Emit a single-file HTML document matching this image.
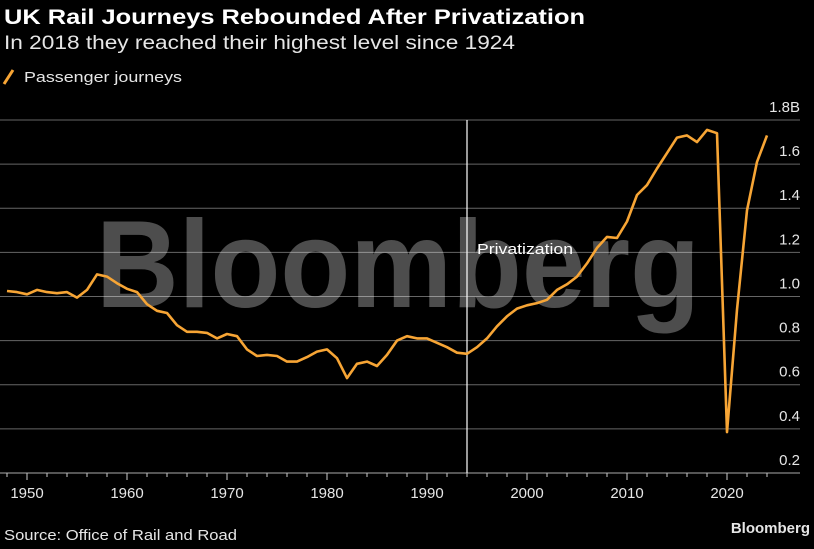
<!DOCTYPE html>
<html><head><meta charset="utf-8"><style>
body{margin:0;background:#000;width:814px;height:544px;overflow:hidden;font-family:"Liberation Sans",sans-serif;color:#fff}
</style></head><body>
<svg width="814" height="544" xmlns="http://www.w3.org/2000/svg">
<text x="4" y="24" font-size="21" font-weight="bold" fill="#fff" textLength="581" lengthAdjust="spacingAndGlyphs">UK Rail Journeys Rebounded After Privatization</text>
<text x="4" y="49" font-size="19" fill="#e6e6e6" textLength="511" lengthAdjust="spacingAndGlyphs">In 2018 they reached their highest level since 1924</text>
<line x1="4" y1="84" x2="13" y2="70" stroke="#f7a535" stroke-width="3"/>
<text x="24" y="82" font-size="15" fill="#e6e6e6" textLength="158" lengthAdjust="spacingAndGlyphs">Passenger journeys</text>
<g id="grid"></g>
<text x="96" y="307" font-size="124" font-weight="bold" fill="#fff" fill-opacity="0.3" textLength="604" lengthAdjust="spacingAndGlyphs">Bloomberg</text>
<line x1="467" y1="120" x2="467" y2="473" stroke="#fff" stroke-width="1.2"/>
<text x="477" y="254" font-size="15" fill="#fff" textLength="96" lengthAdjust="spacingAndGlyphs">Privatization</text>
<g id="series"></g>
<text x="4" y="540" font-size="15" fill="#e6e6e6" textLength="233" lengthAdjust="spacingAndGlyphs">Source: Office of Rail and Road</text>
<text x="810" y="533" font-size="15" font-weight="bold" fill="#e6e6e6" text-anchor="end">Bloomberg</text>
</svg>
<script>
const years=[1948,1949,1950,1951,1952,1953,1954,1955,1956,1957,1958,1959,1960,1961,1962,1963,1964,1965,1966,1967,1968,1969,1970,1971,1972,1973,1974,1975,1976,1977,1978,1979,1980,1981,1982,1983,1984,1985,1986,1987,1988,1989,1990,1991,1992,1993,1994,1995,1996,1997,1998,1999,2000,2001,2002,2003,2004,2005,2006,2007,2008,2009,2010,2011,2012,2013,2014,2015,2016,2017,2018,2019,2020,2021,2022,2023,2024];
const journeys=[1.025,1.02,1.01,1.03,1.02,1.015,1.02,0.995,1.03,1.1,1.09,1.06,1.035,1.02,0.965,0.935,0.925,0.87,0.84,0.84,0.835,0.81,0.83,0.82,0.76,0.73,0.735,0.73,0.705,0.705,0.725,0.75,0.76,0.72,0.63,0.695,0.705,0.685,0.735,0.8,0.82,0.81,0.81,0.79,0.77,0.745,0.74,0.77,0.81,0.865,0.91,0.945,0.96,0.97,0.985,1.03,1.055,1.09,1.15,1.22,1.27,1.265,1.34,1.46,1.505,1.58,1.65,1.72,1.73,1.70,1.755,1.74,0.385,0.94,1.39,1.61,1.73];
const yTicks=[0.2,0.4,0.6,0.8,1.0,1.2,1.4,1.6,1.8];
const yTickLabels=["0.2","0.4","0.6","0.8","1.0","1.2","1.4","1.6","1.8B"];
const xTicks=[1950,1960,1970,1980,1990,2000,2010,2020];
const NS="http://www.w3.org/2000/svg";
const x=yr=>27+(yr-1950)*10;
const y=v=>120+(1.8-v)*220.6;
const grid=document.getElementById('grid');
function mk(tag,attrs,parent){const e=document.createElementNS(NS,tag);for(const k in attrs)e.setAttribute(k,attrs[k]);parent.appendChild(e);return e;}
yTicks.forEach((v,i)=>{
  const l=mk('line',{x1:0,x2:800,y1:y(v),y2:y(v),stroke:i===0?'#aaa':'#666','stroke-width':1},grid);
  
  
  const t=mk('text',{x:800,y:y(v)-8,'font-size':15,fill:'#e6e6e6','text-anchor':'end'},grid);
  t.textContent=yTickLabels[i];
  
  
});
for(let yr=1948;yr<=2024;yr+=2){
  const major=yr%10===0;
  const tk=mk('line',{x1:x(yr),x2:x(yr),y1:473,y2:major?480:477,stroke:'#ccc','stroke-width':1},grid);
  
  
}
xTicks.forEach(yr=>{
  const t=mk('text',{x:x(yr),y:498,'font-size':15,fill:'#e6e6e6','text-anchor':'middle'},grid);
  t.textContent=yr;
  
  
});
const pts=years.map((yr,i)=>x(yr).toFixed(1)+','+y(journeys[i]).toFixed(1)).join(' ');
const line=mk('polyline',{points:pts,fill:'none',stroke:'#f7a535','stroke-width':2.6,'stroke-linejoin':'round'},document.getElementById('series'));


</script>
</body></html>
